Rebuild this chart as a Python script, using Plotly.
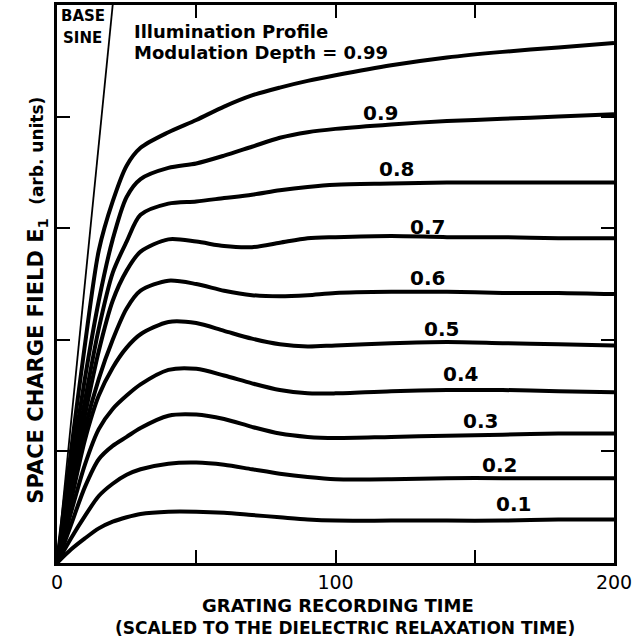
import plotly.graph_objects as go

# grating recording time (scaled to dielectric relaxation time)
t = [0, 5, 10, 15, 20, 25, 30, 40, 50, 60, 70, 80, 90, 100, 120, 140, 160, 180, 200]

# space charge field E1 (arb. units), one curve per modulation depth
m_099 = [0, 1.00, 1.95, 2.80, 3.24, 3.56, 3.72, 3.86, 3.97, 4.09, 4.19, 4.26, 4.32, 4.37, 4.46, 4.53, 4.58, 4.62, 4.66]
m_09 = [0, 0.85, 1.65, 2.35, 2.90, 3.28, 3.44, 3.54, 3.58, 3.65, 3.73, 3.81, 3.86, 3.89, 3.93, 3.96, 3.98, 4.00, 4.02]
m_08 = [0, 0.75, 1.45, 2.10, 2.60, 2.88, 3.12, 3.22, 3.24, 3.27, 3.30, 3.34, 3.37, 3.39, 3.40, 3.41, 3.41, 3.41, 3.41]
m_07 = [0, 0.68, 1.32, 1.90, 2.35, 2.62, 2.79, 2.90, 2.88, 2.84, 2.83, 2.87, 2.91, 2.92, 2.93, 2.92, 2.92, 2.91, 2.91]
m_06 = [0, 0.60, 1.20, 1.65, 2.00, 2.28, 2.44, 2.53, 2.50, 2.44, 2.40, 2.39, 2.40, 2.42, 2.43, 2.43, 2.42, 2.42, 2.41]
m_05 = [0, 0.55, 1.10, 1.50, 1.75, 1.93, 2.05, 2.16, 2.15, 2.08, 2.01, 1.96, 1.94, 1.95, 1.97, 1.98, 1.97, 1.96, 1.95]
m_04 = [0, 0.45, 0.88, 1.20, 1.38, 1.50, 1.60, 1.73, 1.74, 1.68, 1.61, 1.55, 1.52, 1.52, 1.54, 1.55, 1.55, 1.54, 1.53]
m_03 = [0, 0.34, 0.68, 0.93, 1.05, 1.13, 1.21, 1.32, 1.33, 1.29, 1.22, 1.16, 1.13, 1.12, 1.13, 1.14, 1.15, 1.16, 1.16]
m_02 = [0, 0.22, 0.42, 0.60, 0.71, 0.79, 0.84, 0.89, 0.90, 0.88, 0.84, 0.80, 0.77, 0.75, 0.75, 0.76, 0.76, 0.76, 0.76]
m_01 = [0, 0.12, 0.22, 0.31, 0.37, 0.41, 0.44, 0.46, 0.46, 0.45, 0.43, 0.41, 0.39, 0.38, 0.38, 0.38, 0.38, 0.39, 0.39]

curves = [m_099, m_09, m_08, m_07, m_06, m_05, m_04, m_03, m_02, m_01]

# base sine reference line
base_t = [0, 20]
base_y = [0, 5]

# curve labels and where they sit
label_text = ["0.9", "0.8", "0.7", "0.6", "0.5", "0.4", "0.3", "0.2", "0.1"]
label_t = [116, 122, 133, 133, 138, 145, 152, 159, 164]
label_y = [4.03, 3.53, 3.01, 2.55, 2.10, 1.69, 1.27, 0.88, 0.53]

font = "DejaVu Sans"

fig = go.Figure()

fig.add_trace(go.Scatter(x=base_t, y=base_y, mode="lines",
                         line=dict(color="black", width=1.8), showlegend=False))

for c in curves:
    fig.add_trace(go.Scatter(x=t, y=c, mode="lines",
                             line=dict(color="black", width=4, shape="spline", smoothing=0.8),
                             showlegend=False))

# invisible trace so the top/right tick axes get drawn
fig.add_trace(go.Scatter(x=[0], y=[0], xaxis="x2", yaxis="y2", mode="markers",
                         marker=dict(opacity=0), showlegend=False, hoverinfo="skip"))

for txt, lx, ly in zip(label_text, label_t, label_y):
    fig.add_annotation(x=lx, y=ly, text="<b>" + txt + "</b>", showarrow=False,
                       font=dict(family=font, size=20, color="black"))

fig.add_annotation(x=26.9, y=4.76, text="<b>Illumination Profile</b>", showarrow=False,
                   xanchor="left", font=dict(family=font, size=18, color="black"))
fig.add_annotation(x=26.9, y=4.57, text="<b>Modulation Depth = 0.99</b>", showarrow=False,
                   xanchor="left", font=dict(family=font, size=18, color="black"))
fig.add_annotation(x=9.3, y=4.9, text="<b>BASE</b>", showarrow=False,
                   font=dict(family=font, size=15, color="black"))
fig.add_annotation(x=9.3, y=4.7, text="<b>SINE</b>", showarrow=False,
                   font=dict(family=font, size=15, color="black"))

# axis titles placed by hand
fig.add_annotation(x=0.505, y=-0.0753, xref="paper", yref="paper", yanchor="middle",
                   text="<b>GRATING RECORDING TIME</b>", showarrow=False,
                   font=dict(family=font, size=18, color="black"))
fig.add_annotation(x=0.517, y=-0.1165, xref="paper", yref="paper", yanchor="middle",
                   text="<b>(SCALED TO THE DIELECTRIC RELAXATION TIME)</b>", showarrow=False,
                   font=dict(family=font, size=17, color="black"))
fig.add_annotation(x=-0.062, y=0.471, xref="paper", yref="paper", textangle=-90,
                   text="<b>SPACE CHARGE FIELD E<sub>1</sub></b>  <span style='font-size:17px'><b>(arb. units)</b></span>",
                   showarrow=False, font=dict(family=font, size=21, color="black"))

tick_style = dict(ticks="inside", ticklen=13, tickwidth=2, tickcolor="black",
                  showline=True, linecolor="black", linewidth=2.5,
                  showgrid=False, zeroline=False)

fig.update_layout(
    xaxis=dict(range=[0, 200], tickvals=[0, 100, 200],
               minor=dict(tickvals=[50, 150], ticks="inside", ticklen=13, tickwidth=2, tickcolor="black"),
               tickfont=dict(family=font, size=19, color="black"), **tick_style),
    yaxis=dict(range=[0, 5], tickvals=[1, 2, 3, 4], showticklabels=False, **tick_style),
    xaxis2=dict(range=[0, 200], overlaying="x", side="top", tickvals=[50, 100, 150],
                showticklabels=False, **tick_style),
    yaxis2=dict(range=[0, 5], overlaying="y", side="right", tickvals=[1, 2, 3, 4],
                showticklabels=False, **tick_style),
    width=641, height=639,
    margin=dict(l=57, r=27, t=5, b=76, autoexpand=False),
    plot_bgcolor="white", paper_bgcolor="white")

fig.write_html("out.html", config={"displayModeBar": False},
               post_script="document.body.style.margin='0';")
